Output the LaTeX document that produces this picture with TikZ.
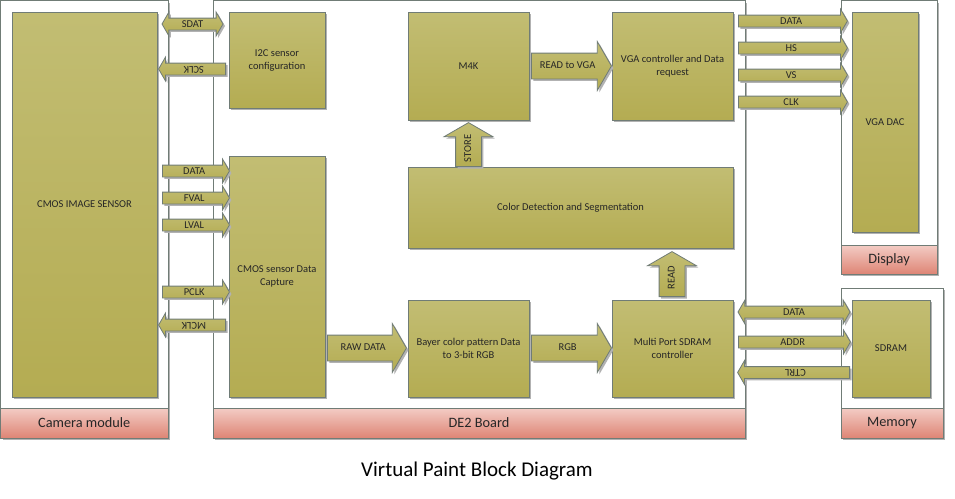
\documentclass[tikz,border=0pt]{standalone}
\usepackage{fontspec}
\setmainfont{Carlito}
\usetikzlibrary{shapes.arrows, shadows}

\definecolor{boxtop}{RGB}{194,189,115}
\definecolor{boxbot}{RGB}{180,172,82}
\definecolor{edge}{RGB}{112,124,118}
\definecolor{bandtop}{RGB}{243,204,197}
\definecolor{bandbot}{RGB}{222,133,117}

\tikzset{
  corners/.style args = {#1/#2/#3/#4}{anchor = north west, at = {(#1,#2)}, outer sep = 0pt,
    minimum width = {(#3-#1)*1pt}, minimum height = {(#4-#2)*1pt}},
  boxshadow/.style = {drop shadow = {shadow xshift = 2pt, shadow yshift = -2pt, fill = black!30, opacity = 1}},
  block/.style = {draw = edge, line width = 0.8pt, top color = boxtop, bottom color = boxbot, boxshadow,
    inner sep = 0pt, align = center, text = black!85, font = \fontsize{10.5}{13}\selectfont},
  frame/.style = {draw = edge, line width = 0.8pt, fill = white, boxshadow, inner sep = 0pt},
  band/.style = {draw = edge, line width = 0.8pt, top color = bandtop, bottom color = bandbot,
    inner sep = 0pt, text = black!85, font = \fontsize{14.3}{16}\selectfont},
  sig/.style = {single arrow, draw = edge, line width = 0.8pt, top color = boxtop, bottom color = boxbot, boxshadow,
    single arrow tip angle = 120, single arrow head extend = 6pt, single arrow head indent = 0pt,
    text height = 7pt, text depth = 1pt, inner ysep = 1.5pt, inner xsep = 1pt, anchor = tail,
    text = black!85, font = \fontsize{10.5}{12}\selectfont},
  sigboth/.style = {double arrow, draw = edge, line width = 0.8pt, top color = boxtop, bottom color = boxbot, boxshadow,
    double arrow tip angle = 120, double arrow head extend = 6pt, double arrow head indent = 0pt,
    text height = 7pt, text depth = 1pt, inner ysep = 1.5pt, inner xsep = 1pt,
    text = black!85, font = \fontsize{10.5}{12}\selectfont},
  bigarrow/.style = {sig, single arrow head extend = 11.5pt, text height = 7pt, text depth = 2pt, inner ysep = 8pt}
}

\begin{document}
\begin{tikzpicture}[x = 1pt, y = -1pt]
  \useasboundingbox (0,0) rectangle (955,498);

  \node[frame, corners = 0.5/0.5/168/438] (camframe) {};
  \node[frame, corners = 213/0.5/745/438] (de2frame) {};
  \node[frame, corners = 841/0.5/937/274] (dispframe) {};
  \node[frame, corners = 841/288/943/438] (memframe) {};

  \node[band, corners = 0.5/408/168/438] (camband) {Camera module};
  \node[band, corners = 213/408/745/438] (de2band) {DE2 Board};
  \node[band, corners = 841/245/937/274] (dispband) {Display};
  \node[band, corners = 841/408/943/438] (memband) {Memory};

  \node[block, corners = 12/12/157/397] (cmos) {CMOS IMAGE SENSOR};
  \node[block, corners = 229/12/325/108] (i2c) {I2C sensor\\configuration};
  \node[block, corners = 229/156/325/397] (capture) {CMOS sensor Data\\Capture};
  \node[block, corners = 408/12/529/120] (m4k) {M4K};
  \node[block, corners = 612/12/733/120] (vgactl) {VGA controller and Data\\request};
  \node[block, corners = 408/167/733/248] (color) {Color Detection and Segmentation};
  \node[block, corners = 408/300/529/397] (bayer) {Bayer color pattern Data\\to 3-bit RGB};
  \node[block, corners = 612/300/733/397] (sdramctl) {Multi Port SDRAM\\controller};
  \node[block, corners = 852/12/918/232] (vgadac) {VGA DAC};
  \node[block, corners = 852/300/930/397] (sdram) {SDRAM};

  \node[sigboth, minimum height = 61pt] (sdat) at (192.5,24) {SDAT};
  \node[sig, rotate = 180, minimum height = 67pt] (sclk) at (226,69) {SCLK};
  \foreach \y/\name in {171/DATA, 198/FVAL, 225/LVAL, 292/PCLK}
    \node[sig, minimum height = 67pt] (cam\name) at (162,\y) {\name};
  \node[sig, rotate = 180, minimum height = 67pt] (mclk) at (226,325) {MCLK};

  \foreach \y/\name in {21/DATA, 48/HS, 75/VS, 102/CLK}
    \node[sig, minimum height = 109pt] (vga\name) at (738,\y) {\name};
  \node[sigboth, minimum height = 112pt] (memdata) at (794,312) {DATA};
  \node[sig, minimum height = 112pt] (addr) at (738,342) {ADDR};
  \node[sig, rotate = 180, minimum height = 112pt] (ctrl) at (850,372.5) {CTRL};

  \node[bigarrow, minimum height = 80pt] (readvga) at (531,66) {READ to VGA};
  \node[bigarrow, minimum height = 79pt] (rawdata) at (327,348) {RAW DATA};
  \node[bigarrow, minimum height = 80pt] (rgb) at (531,348) {RGB};
  \node[bigarrow, rotate = 90, minimum height = 44pt] (store) at (468.5,167) {STORE};
  \node[bigarrow, rotate = 90, minimum height = 45pt] (read) at (672,297) {READ};

  \node[font = \fontsize{21}{24}\selectfont] (title) at (477,471) {Virtual Paint Block Diagram};
\end{tikzpicture}
\end{document}
